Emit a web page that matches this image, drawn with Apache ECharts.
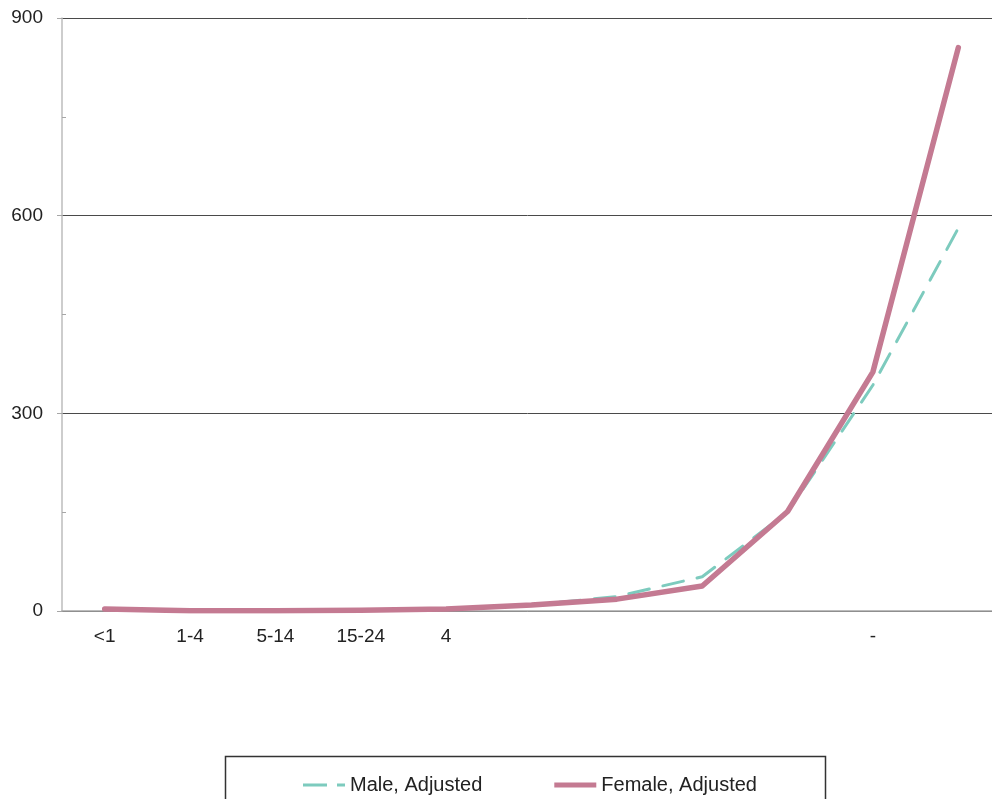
<!DOCTYPE html>
<html><head><meta charset="utf-8">
<script src="https://cdn.jsdelivr.net/npm/echarts@6/dist/echarts.min.js"></script>
<style>html,body{margin:0;padding:0;background:#fff}#c{width:992px;height:799px}</style>
</head><body><div id="c"></div>
<script>
const categories = ["<1", "1-4", "5-14", "15-24", "4", "", "", "", "", "-", ""];
const maleAdjusted = [3, 0.5, 0.5, 1, 3, 9, 22, 52, 150, 343, 581];
const femaleAdjusted = [3, 0.5, 0.5, 1, 3, 9, 18, 38, 151, 363, 855];
const yTicks = [0, 300, 600, 900];

const chart = echarts.init(document.getElementById('c'), null, {renderer: 'canvas'});
const font = '"Liberation Sans", Arial, sans-serif';
chart.setOption({
  animation: false,
  backgroundColor: '#fff',
  textStyle: {fontFamily: font},
  grid: {left: 62, top: 18, width: 939, height: 593, containLabel: false, outerBoundsMode: 'none'},
  xAxis: {
    type: 'category',
    data: categories,
    boundaryGap: true,
    axisLine: {lineStyle: {color: '#a6a6a6', width: 1.5}},
    axisTick: {alignWithLabel: true, length: 6, lineStyle: {color: '#a6a6a6', width: 1.5}},
    axisLabel: {color: '#222', fontSize: 19, margin: 16, fontFamily: font, interval: 0},
    splitLine: {show: false}
  },
  yAxis: {
    type: 'value',
    min: yTicks[0], max: yTicks[yTicks.length - 1], interval: 300,
    axisLine: {show: true, lineStyle: {color: '#bdbdbd', width: 1.5}},
    axisTick: {show: true, length: 5, lineStyle: {color: '#a6a6a6', width: 1}},
    minorTick: {show: true, splitNumber: 2, length: -4, lineStyle: {color: '#a6a6a6'}},
    axisLabel: {color: '#222', fontSize: 19, margin: 19, fontFamily: font},
    splitLine: {show: true, lineStyle: {color: '#4a4a4a', width: 1}}
  },
  legend: {
    left: 298, top: 770,
    itemWidth: 42, itemHeight: 20, itemGap: 72,
    symbolKeepAspect: true,
    textStyle: {color: '#222', fontSize: 20, fontFamily: font},
    data: [
      {name: 'Male, Adjusted', icon: 'path://M0,0h24v3h-24z M34,0h8v3h-8z', itemStyle: {color: '#7dcbbe'}},
      {name: 'Female, Adjusted', icon: 'path://M0,0h48v5.5h-48z', itemStyle: {color: '#c47a92'}}
    ]
  },
  graphic: [{
    type: 'rect', left: 223, top: 754, z: 0,
    shape: {width: 600, height: 70},
    style: {fill: 'none', stroke: '#333', lineWidth: 1.5}
  }],
  series: [
    {
      name: 'Male, Adjusted', type: 'line', data: maleAdjusted,
      symbol: 'none', showSymbol: false, z: 2,
      lineStyle: {color: '#7dcbbe', width: 3, type: [21, 14], cap: 'round'},
      itemStyle: {color: '#7dcbbe'}
    },
    {
      name: 'Female, Adjusted', type: 'line', data: femaleAdjusted,
      symbol: 'none', showSymbol: false, z: 3,
      lineStyle: {color: '#c47a92', width: 5.5, cap: 'round', join: 'round'},
      itemStyle: {color: '#c47a92'}
    }
  ]
});
</script></body></html>
